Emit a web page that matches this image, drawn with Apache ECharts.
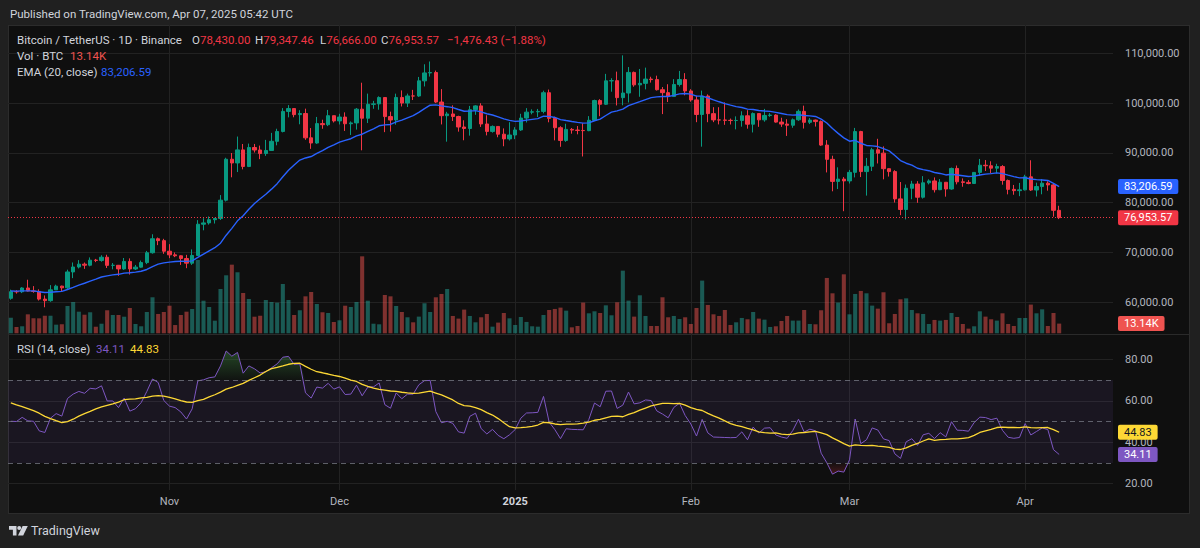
<!DOCTYPE html>
<html>
<head>
<meta charset="utf-8">
<title>Bitcoin / TetherUS 1D</title>
<script src="https://cdn.jsdelivr.net/npm/echarts@6.0.0/dist/echarts.min.js"></script>
<style>
html,body{margin:0;padding:0;width:1200px;height:548px;background:#202020;overflow:hidden;}
body{position:relative;font-family:Roboto,"Noto Sans","DejaVu Sans",sans-serif;}
#panel{position:absolute;left:8px;top:25px;width:1182px;height:489px;box-sizing:border-box;background:#0f0f0f;border:1px solid #2c2c2c;}
#sep{position:absolute;left:8px;top:334px;width:1182px;height:1px;background:#2a2a2a;}
#chart{position:absolute;left:0;top:0;width:1200px;height:548px;}
.t{position:absolute;white-space:nowrap;font-size:11.5px;line-height:14px;color:#d1d4dc;}
.r{color:#f23645;}
</style>
</head>
<body>
<div id="panel"></div>
<div id="sep"></div>
<div id="chart"></div>
<div class="t" style="left:10px;top:7px;">Published on TradingView.com, Apr 07, 2025 05:42 UTC</div>
<div class="t" style="left:17px;top:33px;">Bitcoin / TetherUS · 1D · Binance</div>
<div class="t" style="left:192px;top:33px;">O<span class="r" id="lgO"></span></div>
<div class="t" style="left:255px;top:33px;">H<span class="r" id="lgH"></span></div>
<div class="t" style="left:320px;top:33px;">L<span class="r" id="lgL"></span></div>
<div class="t" style="left:381px;top:33px;">C<span class="r" id="lgC"></span></div>
<div class="t r" style="left:447px;top:33px;" id="lgChg"></div>
<div class="t" style="left:17px;top:49px;">Vol · BTC</div>
<div class="t" style="left:70px;top:49px;color:#ef5350;" id="lgVol"></div>
<div class="t" style="left:17px;top:65px;">EMA (20, close)</div>
<div class="t" style="left:101px;top:65px;color:#2962ff;" id="lgEma"></div>
<div class="t" style="left:17px;top:342px;">RSI (14, close)</div>
<div class="t" style="left:96px;top:342px;color:#7e57c2;" id="lgRsi"></div>
<div class="t" style="left:130px;top:342px;color:#fdd835;" id="lgRsiMa"></div>
<svg style="position:absolute;left:9px;top:526px" width="20" height="10" viewBox="0 0 20 10">
  <path d="M0 0h7.5v9.5h-3.6v-5.8h-3.9z" fill="#d1d4dc"/>
  <circle cx="10.2" cy="2" r="2" fill="#d1d4dc"/>
  <path d="M13.6 0h5.2l-4.6 9.5h-5.2z" fill="#d1d4dc"/>
</svg>
<div class="t" style="left:31px;top:524px;font-size:12.5px;line-height:14px;">TradingView</div>
<script>
// ---------- data (Binance BTC/USDT daily, 2024-10-04 .. 2025-04-07) ----------
const firstDay = '2024-10-04';
const padDays = 9;
const opens = [60750,62086,62058,62819,62224,62131,60583,60274,62445,63193,
 62851,66046,67041,67612,67399,68418,68362,69001,67367,67380,
 66653,68161,66642,67014,67930,69907,72720,72339,70215,69482,
 69289,68742,67811,69359,75639,75905,76545,76778,80474,88701,
 87955,90584,87250,91066,90558,89845,90464,92310,94286,98317,
 98892,97672,97900,93010,91965,95863,95643,97460,96407,97185,
 95840,96002,98768,96947,99740,99831,101109,97276,96593,101125,
 100000,101424,101420,104463,106058,106133,100204,97461,97805,97292,
 95187,94881,98663,99430,95792,94300,95300,93738,92792,93576,
 94591,96984,98174,98237,98315,102078,96923,95043,92485,94701,
 94566,94488,94450,96534,100504,99756,104462,104500,101089,102016,
 106159,103653,103960,104819,104714,102682,102087,101332,103733,104722,
 102429,100635,97700,101406,97871,96615,96593,96529,96482,96500,
 97437,95747,97885,96623,97508,97580,96175,95773,95539,96635,
 98333,96125,96577,96273,91552,88680,84250,84708,84350,86064,
 94270,86220,87281,90606,89931,86801,86222,80734,78595,82862,
 83722,81066,83969,84343,82579,84075,82718,86854,84167,84043,
 83832,86054,87498,87392,86909,87232,84424,82648,82389,82550,
 85158,82516,83213,83889,83537,78430];
const highs = [62484,62370,62975,64478,63200,62544,61320,63400,63480,63285,
 66500,67950,68424,67939,68969,68668,69400,69500,67836,67450,
 68850,68771,67454,68332,70270,73620,72962,72700,71632,69960,
 69379,69480,70577,76460,76849,77199,76932,81500,89000,89956,
 93265,91765,91850,91779,91449,92594,94002,94831,98988,99588,
 98945,98564,98871,94973,97208,96650,98619,97463,97836,98130,
 96305,99000,104088,101898,100439,101351,101215,98270,101888,102540,
 101895,102650,105250,107793,108353,106524,102800,98233,99540,97448,
 96538,99416,99569,99963,97544,95500,95348,94903,96150,95149,
 97839,98976,98734,98813,102482,102712,97259,95350,95836,94977,
 95378,95940,97371,100681,100781,105865,104988,106314,109588,107240,
 106327,106850,107120,105286,105500,103220,103783,104800,106457,106012,
 102783,101456,102500,101740,99170,99167,100137,96880,97323,98345,
 98564,98119,97885,98826,97970,97732,97046,96753,96899,98711,
 99475,96980,96671,96503,92540,89414,87078,85120,86558,95000,
 94416,88967,91000,92811,91283,86897,86500,84123,83617,84359,
 84300,85309,84672,85051,84725,84075,87021,87443,84850,84513,
 86094,88765,88542,88292,87786,87515,84624,83534,83943,85579,
 88500,83998,84720,84266,83817,79347.46];
const lows = [60459,61690,61800,62128,61860,60300,58946,60050,62410,62050,
 62422,64800,66750,66666,67177,68020,68100,66835,66571,65260,
 66458,65520,66439,66913,67620,69730,71436,69685,68820,69020,
 67458,66803,67458,69322,74416,75560,75773,76492,80216,85072,
 86127,86668,87124,90056,88722,89376,90400,91500,94102,97122,
 97136,95734,92600,90791,91792,94827,95364,96092,95693,94395,
 93578,94660,90500,95981,98844,98657,94150,94256,95658,99311,
 99205,100610,101237,103333,105321,100000,95700,92232,96398,94250,
 92520,93448,97632,95199,93500,94050,93123,91317,92465,92745,
 94392,96100,97735,97200,97926,96132,92500,91203,92206,93840,
 93712,89256,94340,96500,97352,99600,102278,99518,99550,100119,
 103279,101262,102750,104106,102520,97777,100210,101328,103321,101560,
 100279,96150,91231,96150,96155,95708,95620,95688,94713,95256,
 94850,94088,95217,96252,97223,96046,95205,93388,95029,96415,
 94871,95770,95270,91371,86050,82256,82716,78258,83824,85050,
 85117,81390,86334,87852,84667,85218,80000,77459,76606,80667,
 79939,80797,83639,82017,82492,81179,82569,83647,83175,83674,
 83794,85345,86346,85861,85837,83585,81644,81565,81279,82432,
 82320,81211,81659,82379,77153,76666];
const closes = [62086,62058,62819,62224,62131,60583,60274,62445,63193,62851,
 66046,67041,67612,67399,68418,68362,69001,67367,67380,66653,
 68161,66642,67014,67930,69907,72720,72339,70215,69482,69289,
 68742,67811,69359,75639,75905,76545,76778,80474,88701,87955,
 90584,87250,91066,90558,89845,90464,92310,94286,98317,98892,
 97672,97900,93010,91965,95863,95643,97460,96407,97185,95840,
 96002,98768,96947,99740,99831,101109,97276,96593,101125,100000,
 101424,101420,104463,106058,106133,100204,97461,97805,97292,95187,
 94881,98663,99430,95792,94300,95300,93738,92792,93576,94591,
 96984,98174,98237,98315,102078,96923,95043,92485,94701,94566,
 94488,94450,96534,100504,99756,104462,104500,101089,102016,106159,
 103653,103960,104819,104714,102682,102087,101332,103733,104722,102429,
 100635,97700,101406,97871,96615,96593,96529,96482,96500,97437,
 95747,97885,96623,97508,97580,96175,95773,95539,96635,98333,
 96125,96577,96273,91552,88680,84250,84708,84350,86064,94270,
 86220,87281,90606,89931,86801,86222,80734,78595,82862,83722,
 81066,83969,84343,82579,84075,82718,86854,84167,84043,83832,
 86054,87498,87392,86909,87232,84424,82648,82389,82550,85158,
 82516,83213,83889,83537,78430,76953.57];
// volume, thousands of BTC
const volumes = [21.1,8.5,9.5,25.7,20.3,20.3,23.8,23.8,11.7,12.1,
 37.0,42.4,29.3,25.2,28.5,8.9,13.0,31.2,24.8,24.8,
 22.5,34.3,12.6,9.5,28.9,48.8,26.2,28.9,37.4,11.2,
 24.8,29.3,32.9,99.3,44.2,35.6,17.1,60.0,78.6,93.0,
 82.7,54.6,46.5,22.5,23.8,45.1,42.4,41.5,66.8,45.1,
 24.8,31.2,50.1,56.0,39.7,28.5,27.5,15.3,17.6,37.4,
 35.6,42.4,104.3,44.2,13.0,12.2,51.9,50.1,37.0,28.9,
 21.7,14.9,22.6,40.7,28.9,48.8,53.3,60.0,23.5,19.9,
 32.1,23.5,14.9,21.7,26.2,9.0,14.5,27.5,20.3,11.3,
 22.1,15.4,9.5,9.0,24.8,31.6,33.0,34.8,30.7,8.1,
 9.9,41.6,27.1,29.8,27.5,37.9,24.4,42.0,84.9,44.3,
 22.6,51.5,23.5,9.9,9.9,48.8,21.7,23.5,19.4,21.7,
 12.6,34.3,71.4,38.4,25.7,23.5,31.6,11.3,14.9,20.8,
 19.0,28.9,19.9,18.5,8.6,9.5,16.7,23.5,17.2,17.2,
 31.6,12.6,12.2,31.2,75.0,54.2,41.6,79.9,25.7,53.3,
 57.4,54.2,37.5,33.4,55.6,13.6,26.2,46.1,47.4,31.6,
 27.1,26.2,12.6,18.1,17.2,18.1,27.5,22.1,12.6,6.3,
 9.5,29.8,22.6,19.0,17.2,27.1,12.6,9.9,20.8,20.8,
 38.9,27.1,32.5,9.9,27.5,13.14];
const ema20 = [62200,62186,62246,62244,62233,62076,61904,61956,62074,62148,
 62519,62950,63394,63775,64217,64612,65030,65253,65456,65570,
 65817,65896,66002,66186,66540,67129,67625,67872,68025,68145,
 68202,68165,68279,68980,69640,70298,70915,71825,73432,74815,
 76317,77358,78664,79797,80754,81679,82691,83795,85178,86484,
 87550,88536,88962,89248,89878,90427,91097,91603,92135,92488,
 92823,93389,93728,94301,94828,95426,95602,95696,96213,96574,
 97036,97454,98122,98878,99569,99629,99423,99269,99081,98710,
 98345,98375,98475,98219,97846,97604,97236,96813,96505,96323,
 96386,96556,96716,96868,97364,97322,97105,96665,96478,96296,
 96124,95965,96019,96446,96761,97494,98161,98440,98781,99484,
 99881,100269,100702,101084,101236,101317,101318,101548,101850,101905,
 101784,101395,101396,101060,100637,100252,99897,99572,99279,99104,
 98784,98698,98500,98406,98327,98122,97898,97673,97574,97646,
 97501,97413,97304,96756,95987,94869,93901,92991,92331,92516,
 91916,91475,91392,91253,90829,90390,89470,88434,87903,87505,
 86892,86614,86398,86034,85847,85549,85673,85530,85388,85240,
 85318,85526,85704,85819,85954,85808,85507,85210,84957,84976,
 84742,84596,84529,84435,83863,83206.59];
const rsi14 = [50.1,50.0,52.0,50.3,50.1,45.5,44.7,51.6,53.8,52.6,
 61.1,63.2,64.5,63.6,66.0,65.7,67.2,59.9,59.9,56.7,
 61.3,55.0,56.2,59.1,64.5,70.5,68.8,60.1,57.4,56.7,
 54.6,51.2,56.1,69.6,70.1,71.1,71.5,76.8,84.0,81.5,
 83.3,73.3,76.8,75.4,73.4,74.0,75.9,77.8,81.0,81.4,
 77.5,77.8,63.8,61.3,66.6,66.1,68.4,65.6,66.7,63.0,
 63.2,67.5,62.4,66.6,66.7,68.6,58.1,56.4,63.8,61.0,
 63.2,63.2,67.7,69.7,69.8,54.8,49.4,50.1,49.1,45.0,
 44.4,52.5,54.0,46.6,44.0,46.2,43.3,41.7,43.6,46.1,
 51.6,54.1,54.2,54.4,62.1,49.7,46.1,41.7,46.5,46.2,
 46.1,46.0,51.0,58.9,57.1,64.6,64.7,56.3,57.9,64.2,
 58.5,59.0,60.4,60.1,55.1,53.6,51.8,56.8,58.8,52.9,
 48.8,43.0,51.0,44.5,42.5,42.4,42.3,42.2,42.3,45.0,
 41.2,47.3,44.4,46.8,47.0,43.5,42.5,41.9,45.7,51.1,
 44.9,46.3,45.5,34.7,30.1,24.6,26.1,25.6,31.5,51.2,
 39.3,41.2,46.9,45.9,41.6,40.8,34.4,32.2,40.2,41.7,
 38.5,43.6,44.3,41.8,44.6,42.6,49.9,45.8,45.7,45.3,
 49.5,52.1,51.9,50.9,51.6,45.7,42.4,41.9,42.3,49.0,
 43.5,45.2,46.9,46.1,36.4,34.11];
const rsiMa14 = [59.0,58.0,57.2,56.2,55.2,54.0,52.5,51.4,50.4,49.5,
 49.9,51.1,52.6,53.8,54.9,56.1,57.1,57.8,58.5,59.3,
 60.5,60.8,60.9,61.4,61.6,62.2,62.5,62.2,61.6,60.9,
 60.1,59.4,59.2,60.1,60.7,61.9,62.9,64.2,65.6,66.4,
 67.4,68.4,69.8,71.1,72.4,74.1,75.5,76.1,76.8,77.6,
 78.0,78.1,76.6,75.2,74.0,73.5,72.9,72.2,71.7,70.9,
 70.0,69.3,67.9,66.9,66.1,65.5,65.1,64.7,64.5,64.1,
 63.8,63.6,63.7,64.2,64.6,63.7,62.8,61.6,60.4,58.7,
 57.7,57.4,56.7,55.7,54.3,53.1,51.4,49.4,47.5,46.9,
 47.0,47.3,47.7,48.3,49.6,49.4,48.8,48.5,48.7,48.7,
 48.9,49.2,49.7,50.6,51.0,51.8,52.5,52.6,52.3,53.4,
 54.3,55.5,56.5,57.5,58.1,58.7,58.7,58.6,58.7,57.9,
 56.7,55.8,55.3,53.9,52.7,51.6,50.3,49.0,48.1,47.5,
 46.7,46.0,45.0,44.6,44.4,44.5,43.9,43.7,43.9,44.5,
 44.7,45.0,45.2,44.5,43.7,42.1,40.8,39.3,38.1,38.7,
 38.5,38.4,38.5,38.1,37.9,37.5,36.7,36.5,37.3,38.5,
 39.4,40.6,41.6,40.9,41.3,41.4,41.6,41.6,41.9,42.2,
 43.3,44.7,45.5,46.2,47.1,47.3,47.1,47.1,47.0,47.4,
 47.0,46.9,47.0,47.1,46.1,44.83];
const monthTickDates = ['2024-11-01','2024-12-01','2025-01-01','2025-02-01','2025-03-01','2025-04-01'];
const monthTickLabels = ['Nov','Dec','2025','Feb','Mar','Apr'];
const rsiLevels = [70, 50, 30];

// ---------- helpers ----------
const dates = [];
{
  const t0 = Date.parse(firstDay + 'T00:00:00Z');
  for (let k = 0; k < closes.length + padDays; k++) dates.push(new Date(t0 + k * 86400000).toISOString().slice(0, 10));
}
const fmt = (v, d) => Number(v).toLocaleString('en-US', {minimumFractionDigits: d === undefined ? 2 : d, maximumFractionDigits: d === undefined ? 2 : d});
const last = closes.length - 1;
const chg = closes[last] - closes[last - 1];
document.getElementById('lgO').textContent = fmt(opens[last]);
document.getElementById('lgH').textContent = fmt(highs[last]);
document.getElementById('lgL').textContent = fmt(lows[last]);
document.getElementById('lgC').textContent = fmt(closes[last]);
document.getElementById('lgChg').textContent = (chg < 0 ? '−' : '+') + fmt(Math.abs(chg)) + ' (' + (chg < 0 ? '−' : '+') + fmt(Math.abs(chg / closes[last - 1] * 100)) + '%)';
document.getElementById('lgVol').textContent = fmt(volumes[last]) + 'K';
document.getElementById('lgEma').textContent = fmt(ema20[last]);
document.getElementById('lgRsi').textContent = fmt(rsi14[last]);
document.getElementById('lgRsiMa').textContent = fmt(rsiMa14[last]);

const UP = '#089981', DOWN = '#f23645';
const GRID = '#222222';
const AXIS_TXT = '#b2b5be';
const FONT = 'Roboto, "Noto Sans", sans-serif';
const monthIdx = monthTickDates.map(d => dates.indexOf(d));

const candleData = opens.map((o, i) => [o, closes[i], lows[i], highs[i]]);
const volData = volumes.map((v, i) => ({value: v, itemStyle: {color: closes[i] >= opens[i] ? 'rgba(38,166,154,0.5)' : 'rgba(239,83,80,0.5)'}}));
const obData = rsi14.map(v => Math.max(v, 70));
const osData = rsi14.map(v => Math.min(v, 30));

function tagLabel(text, bg, fg) {
  return {show: true, position: 'end', distance: 5, formatter: text, backgroundColor: bg, color: fg, opacity: 1,
    padding: [2, 6, 1, 6], lineHeight: 12, fontSize: 11, fontFamily: FONT, borderRadius: 2};
}
function tag(value, text, bg, fg) {
  return {yAxis: value, lineStyle: {color: 'rgba(0,0,0,0)', width: 1, opacity: 1}, label: tagLabel(text, bg, fg)};
}

const hiddenX = (gi) => ({type: 'category', gridIndex: gi, data: dates, boundaryGap: true, show: false});

const chart = echarts.init(document.getElementById('chart'), null, {renderer: 'svg', width: 1200, height: 548});
chart.setOption({
  animation: false,
  backgroundColor: 'transparent',
  textStyle: {fontFamily: FONT},
  grid: [
    {left: 8, top: 3.56, width: 1105, height: 348.2, outerBoundsMode: 'none', containLabel: false},
    {left: 8, top: 233.3, width: 1105, height: 100, outerBoundsMode: 'none', containLabel: false},
    {left: 8, top: 317.8, width: 1105, height: 207.4, outerBoundsMode: 'none', containLabel: false},
    {left: 10.833, top: 25, width: 1099.33, height: 465, outerBoundsMode: 'none', containLabel: false}
  ],
  xAxis: [
    hiddenX(0), hiddenX(1), hiddenX(2),
    {
      type: 'category', gridIndex: 3, data: dates, boundaryGap: false, position: 'bottom',
      axisLine: {show: false}, axisTick: {show: false},
      axisLabel: {
        interval: (idx) => monthIdx.indexOf(idx) >= 0,
        formatter: (val) => {
          const s = monthTickLabels[monthTickDates.indexOf(val)] || '';
          return /^\d{4}$/.test(s) ? '{y|' + s + '}' : s;
        },
        color: AXIS_TXT, fontSize: 11, fontFamily: FONT, margin: 6,
        rich: {y: {fontWeight: 'bold', color: '#d1d4dc', fontSize: 11, fontFamily: FONT}}
      },
      splitLine: {show: true, interval: (idx) => monthIdx.indexOf(idx) >= 0, lineStyle: {color: GRID, width: 1}}
    }
  ],
  yAxis: [
    {
      type: 'value', gridIndex: 0, position: 'right', min: 50000, max: 120000, interval: 10000,
      axisLine: {show: false}, axisTick: {show: false},
      axisLabel: {showMinLabel: false, showMaxLabel: false, formatter: (v) => fmt(v), color: AXIS_TXT, fontSize: 11, fontFamily: FONT, margin: 12},
      splitLine: {show: true, lineStyle: {color: ['transparent', GRID, GRID, GRID, GRID, GRID, GRID, 'transparent'], width: 1}}
    },
    {type: 'value', gridIndex: 1, min: 0, max: 135.5, show: false},
    {
      type: 'value', gridIndex: 2, position: 'right', min: 0, max: 100, interval: 20,
      axisLine: {show: false}, axisTick: {show: false},
      axisLabel: {showMinLabel: false, showMaxLabel: false, formatter: (v) => fmt(v), color: AXIS_TXT, fontSize: 11, fontFamily: FONT, margin: 12},
      splitLine: {show: true, lineStyle: {color: ['transparent', GRID, GRID, GRID, GRID, 'transparent'], width: 1}}
    },
    {type: 'value', gridIndex: 3, show: false}
  ],
  series: [
    {
      name: 'Volume', type: 'bar', xAxisIndex: 1, yAxisIndex: 1, data: volData, barWidth: '72%',
      silent: true, z: 1,
      markLine: {silent: true, symbol: ['none', 'none'], data: [tag(volumes[last], fmt(volumes[last]) + 'K', '#ef5350', '#ffffff')]}
    },
    {
      name: 'BTCUSDT', type: 'candlestick', xAxisIndex: 0, yAxisIndex: 0, data: candleData, barWidth: '62%',
      silent: true, z: 3,
      itemStyle: {color: UP, color0: DOWN, borderColor: UP, borderColor0: DOWN, borderWidth: 1},
      markLine: {
        silent: true, symbol: ['none', 'none'],
        data: [{yAxis: closes[last], lineStyle: {color: DOWN, type: [1, 2], width: 1}, label: tagLabel(fmt(closes[last]), DOWN, '#ffffff')}]
      }
    },
    {
      name: 'EMA 20', type: 'line', xAxisIndex: 0, yAxisIndex: 0, data: ema20, showSymbol: false, symbol: 'none',
      silent: true, z: 4,
      lineStyle: {color: '#2962ff', width: 1.4},
      markLine: {silent: true, symbol: ['none', 'none'], data: [tag(ema20[last], fmt(ema20[last]), '#2962ff', '#ffffff')]}
    },
    {
      name: 'overbought', type: 'line', xAxisIndex: 2, yAxisIndex: 2, data: obData, symbol: 'none', silent: true, z: 2,
      lineStyle: {width: 0, opacity: 0},
      areaStyle: {origin: 70, color: new echarts.graphic.LinearGradient(0, 0, 0, 1, [
        {offset: 0, color: 'rgba(76,175,80,0.5)'}, {offset: 1, color: 'rgba(76,175,80,0.04)'}])}
    },
    {
      name: 'oversold', type: 'line', xAxisIndex: 2, yAxisIndex: 2, data: osData, symbol: 'none', silent: true, z: 2,
      lineStyle: {width: 0, opacity: 0},
      areaStyle: {origin: 30, color: new echarts.graphic.LinearGradient(0, 0, 0, 1, [
        {offset: 0, color: 'rgba(242,54,69,0.04)'}, {offset: 1, color: 'rgba(242,54,69,0.35)'}])}
    },
    {
      name: 'RSI', type: 'line', xAxisIndex: 2, yAxisIndex: 2, data: rsi14, symbol: 'none', silent: true, z: 4,
      lineStyle: {color: '#7e57c2', width: 1},
      markArea: {silent: true, itemStyle: {color: 'rgba(126,87,194,0.1)'}, data: [[{yAxis: rsiLevels[2]}, {yAxis: rsiLevels[0]}]]},
      markLine: {
        silent: true, symbol: ['none', 'none'],
        data: rsiLevels.map(l => ({yAxis: l, lineStyle: {color: 'rgba(120,123,134,0.75)', type: [5, 4], width: 1}, label: {show: false}}))
          .concat([tag(rsi14[last], fmt(rsi14[last]), '#7e57c2', '#ffffff')])
      }
    },
    {
      name: 'RSI MA', type: 'line', xAxisIndex: 2, yAxisIndex: 2, data: rsiMa14, symbol: 'none', silent: true, z: 5,
      lineStyle: {color: '#fdd835', width: 1.3},
      markLine: {silent: true, symbol: ['none', 'none'], data: [tag(rsiMa14[last], fmt(rsiMa14[last]), '#fdd835', '#131722')]}
    }
  ]
});
</script>
</body>
</html>
